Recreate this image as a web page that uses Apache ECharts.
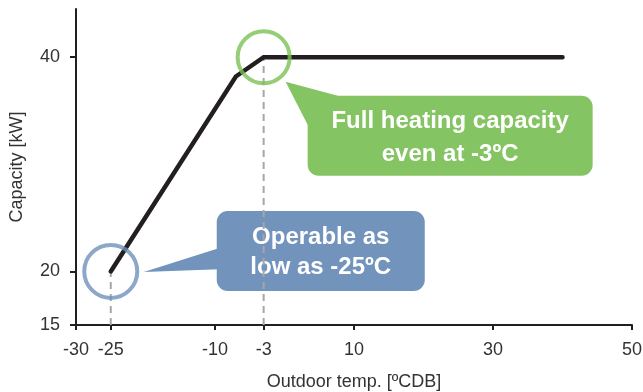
<!DOCTYPE html>
<html>
<head>
<meta charset="utf-8">
<script src="https://cdn.jsdelivr.net/npm/echarts@6/dist/echarts.min.js"></script>
<style>
  html, body { margin: 0; padding: 0; background: #fff; }
  #chart { width: 643px; height: 392px; }
</style>
</head>
<body>
<div id="chart"></div>
<script>
// tick values
const xTicks = [-30, -25, -10, -3, 10, 30, 50];
const yTicks = [15, 20, 40];

// capacity curve [temp, kW]
const capacityCurve = [[-25, 20], [-7, 38.2], [-3, 40], [40, 40]];

// highlighted points
const lowPoint = [-25, 20];
const fullPoint = [-3, 40];

// guide lines down to the x axis
const lowGuide = [[-25, 15], [-25, 20]];
const fullGuide = [[-3, 15], [-3, 40]];

const lowNote = "Operable as\nlow as -25ºC";
const fullNote = "Full heating capacity\neven at -3ºC";

const FONT = "'Liberation Sans', Arial, sans-serif";
const BLUE = "#7293bc";
const GREEN = "#85c462";

const chart = echarts.init(document.getElementById("chart"));

chart.setOption({
  animation: false,
  grid: { left: 76, right: 11, top: 9, bottom: 67, outerBoundsMode: "none", containLabel: false },
  xAxis: {
    type: "value",
    min: -30,
    max: 50,
    name: "Outdoor temp. [ºCDB]",
    nameLocation: "middle",
    nameGap: 48,
    nameTextStyle: { color: "#333", fontSize: 18, fontFamily: FONT },
    axisLine: { show: true, onZero: false, lineStyle: { color: "#231f20", width: 2 } },
    axisTick: { show: true, length: 5, customValues: xTicks, lineStyle: { color: "#231f20", width: 2 } },
    axisLabel: { customValues: xTicks, color: "#333", fontSize: 18, fontFamily: FONT, margin: 16 },
    splitLine: { show: false }
  },
  yAxis: {
    type: "value",
    min: 15,
    max: 44.5,
    name: "Capacity [kW]",
    nameLocation: "middle",
    nameGap: 50,
    nameTextStyle: { color: "#333", fontSize: 18, fontFamily: FONT },
    axisLine: { show: true, onZero: false, lineStyle: { color: "#231f20", width: 2 } },
    axisTick: { show: true, length: 6, customValues: yTicks, lineStyle: { color: "#231f20", width: 2 } },
    axisLabel: { customValues: yTicks, color: "#333", fontSize: 18, fontFamily: FONT, margin: 16 },
    splitLine: { show: false }
  },
  series: [
    {
      type: "line",
      data: lowGuide,
      symbol: "none",
      lineStyle: { color: "#a6a6a6", width: 2, type: [7, 5] },
      z: 1
    },
    {
      type: "line",
      data: fullGuide,
      symbol: "none",
      lineStyle: { color: "#a6a6a6", width: 2, type: [7, 5] },
      z: 1
    },
    {
      type: "line",
      data: capacityCurve,
      symbol: "none",
      lineStyle: { color: "#231f20", width: 4.5, cap: "round", join: "miter" },
      z: 3
    },
    {
      type: "scatter",
      data: [lowPoint],
      symbolSize: 53,
      itemStyle: { color: "rgba(0,0,0,0)", borderColor: "#7091bb", borderWidth: 4 },
      z: 4
    },
    {
      type: "scatter",
      data: [fullPoint],
      symbolSize: 52,
      itemStyle: { color: "rgba(0,0,0,0)", borderColor: "#7cc256", borderWidth: 4 },
      z: 4
    }
  ]
});

// callouts placed relative to the circled points
const pl = chart.convertToPixel({ gridIndex: 0 }, lowPoint);
const pf = chart.convertToPixel({ gridIndex: 0 }, fullPoint);

chart.setOption({
  graphic: [
    {
      type: "group",
      x: pl[0],
      y: pl[1],
      z: 10,
      children: [
        {
          type: "polygon",
          shape: { points: [[33, 0.5], [115, -25.5], [115, -2.5]] },
          style: { fill: BLUE }
        },
        {
          type: "rect",
          shape: { x: 106, y: -60.5, width: 208, height: 80, r: 11 },
          style: { fill: BLUE }
        },
        {
          type: "text",
          x: 210,
          y: -19,
          style: {
            text: lowNote,
            fill: "#fff",
            font: "bold 24px " + FONT,
            align: "center",
            verticalAlign: "middle",
            lineHeight: 30
          }
        }
      ]
    },
    {
      type: "group",
      x: pf[0],
      y: pf[1],
      z: 10,
      children: [
        {
          type: "polygon",
          shape: { points: [[22, 24.5], [74, 38.5], [60, 50], [44, 67.5]] },
          style: { fill: GREEN }
        },
        {
          type: "rect",
          shape: { x: 44, y: 38.5, width: 285, height: 80, r: 11 },
          style: { fill: GREEN }
        },
        {
          type: "text",
          x: 186.5,
          y: 80.5,
          style: {
            text: fullNote,
            fill: "#fff",
            font: "bold 24px " + FONT,
            align: "center",
            verticalAlign: "middle",
            lineHeight: 33
          }
        }
      ]
    }
  ]
});
</script>
</body>
</html>
